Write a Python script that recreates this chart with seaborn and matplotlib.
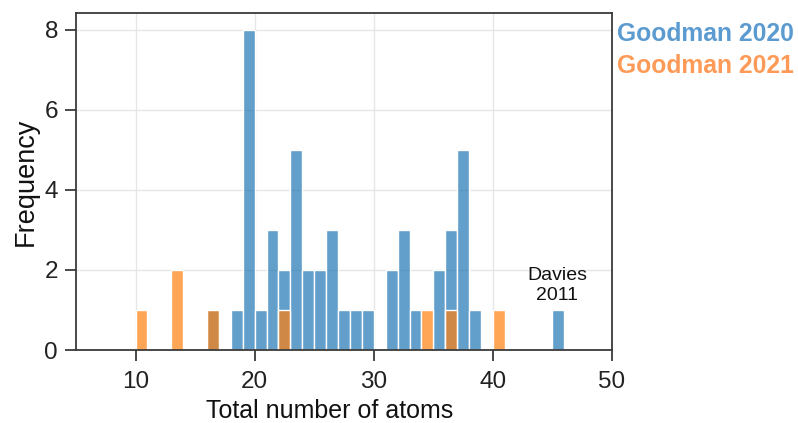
import numpy as np
import pandas as pd
import matplotlib
matplotlib.use("Agg")
import matplotlib.pyplot as plt
import seaborn as sns

# Data: atom counts (value -> frequency)
g2020_atoms = [16, 18, 19, 20, 21, 22, 23, 24, 25, 26, 27, 28, 29, 31, 32, 33, 35, 36, 37, 38, 45]
g2020_counts = [1, 1, 8, 1, 3, 2, 5, 2, 2, 3, 1, 1, 1, 2, 3, 1, 2, 3, 5, 1, 1]
g2021_atoms = [10, 13, 16, 22, 34, 36, 40]
g2021_counts = [1, 2, 1, 1, 1, 1, 1]
series_names = ["Goodman 2020", "Goodman 2021"]
x_ticks = [10, 20, 30, 40, 50]
y_ticks = [0, 2, 4, 6, 8]

rows = []
for a, c in zip(g2020_atoms, g2020_counts):
    rows += [(a, series_names[0])] * c
for a, c in zip(g2021_atoms, g2021_counts):
    rows += [(a, series_names[1])] * c
df = pd.DataFrame(rows, columns=["atoms", "dataset"])

sns.set_style("whitegrid")
plt.rcParams["font.family"] = ["Liberation Sans", "DejaVu Sans"]

blue = "#1f77b4"
orange = "#ff7f0e"
palette = {series_names[0]: blue, series_names[1]: orange}

fig = plt.figure(figsize=(7.98, 4.23), dpi=100)
ax = fig.add_axes([76 / 798, 1 - 350 / 423, (612 - 76) / 798, (350 - 13) / 423])

sns.histplot(data=df, x="atoms", hue="dataset", bins=np.arange(5, 51, 1),
             hue_order=[series_names[1], series_names[0]], palette=palette,
             multiple="layer", alpha=0.7, edgecolor="white", linewidth=1.0,
             legend=False, ax=ax)

ax.set_xlim(5, 50)
ax.set_ylim(0, 8.42)
ax.set_xticks(x_ticks)
ax.set_yticks(y_ticks)
ax.grid(True, color="#e6e6e6", linewidth=1.0)
ax.set_axisbelow(True)
for s in ax.spines.values():
    s.set_visible(True)
    s.set_color("#3a3a3a")
    s.set_linewidth(1.3)
ax.tick_params(axis="both", which="both", direction="out", length=8, width=1.3,
               color="#3a3a3a", labelsize=17.5, labelcolor="#222222", pad=5,
               bottom=True, left=True)
ax.tick_params(axis="x", pad=7)
ax.set_xlabel("Total number of atoms", fontsize=18, color="#111111")
ax.xaxis.set_label_coords(0.474, -0.146)
ax.set_ylabel("Frequency", fontsize=19.5, color="#111111", labelpad=4)

ax.text(45.4, 1.62, "Davies\n2011", ha="center", va="center", fontsize=14,
        color="#111111", linespacing=1.25)

fig.text(617 / 798, 1 - 34 / 423, series_names[0], color="#5b9bd0", fontsize=17.7,
         fontweight="bold", ha="left", va="center")
fig.text(617 / 798, 1 - 66 / 423, series_names[1], color="#fd9a57", fontsize=17.7,
         fontweight="bold", ha="left", va="center")

fig.savefig("out.png", dpi=100)
